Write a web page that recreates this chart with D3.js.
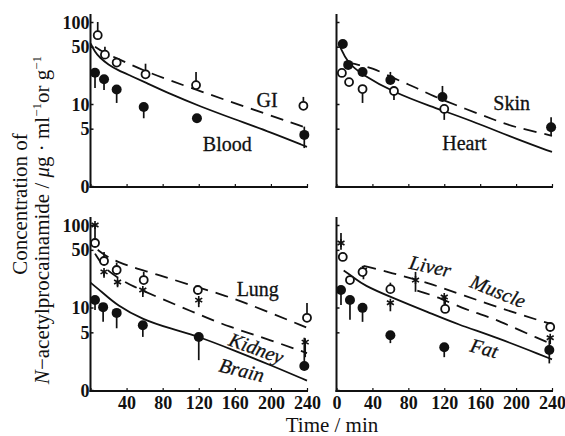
<!DOCTYPE html>
<html><head><meta charset="utf-8">
<script src="https://cdn.jsdelivr.net/npm/d3@7"></script>
<style>
body{margin:0;background:#fff}
text{font-family:"Liberation Serif","DejaVu Serif",serif;fill:#111}
</style>
</head><body>
<svg id="c" width="565" height="436"></svg>
<script>
// ---------- data ----------
const TIME_TICKS = [0, 40, 80, 120, 160, 200, 240];
const TIME_LABELS_LEFT = [40, 80, 120, 160, 200, 240];
const CONC_TICKS = [1, 5, 10, 50, 100];
const CONC_LABELS = ["0", "5", "10", "50", "100"];

// top-left: GI (open, dashed) & Blood (filled, solid)
const giT = [8, 16, 29, 61, 117, 236];
const giV = [69, 40, 32, 23, 17, 9.5];
const giHi = [100, 50, 32, 31, 24.5, 12.2];
const bloodT = [5, 15, 29, 59, 118, 237];
const bloodV = [24, 20, 15, 9.2, 6.7, 4.2];
const bloodLo = [15.7, 14.8, 10.3, 6.7, 6.2, 2.9];
const bloodHi = [24, 20, 15, 9.2, 6.7, 5.3];
const giCurveT = [5, 15, 30, 60, 120, 180, 240];
const giCurveV = [50, 42, 36, 25, 14.5, 8.6, 5.1];
const bloodCurveT = [0, 5, 10, 20, 30, 45, 60, 90, 120, 160, 200, 240];
const bloodCurveV = [55, 43, 37, 30, 26, 22, 18.5, 13, 9.5, 6.5, 4.5, 3.0];

// top-right: Skin (filled, dashed) & Heart (open, solid)
const skinT = [7, 13, 29, 60, 118, 239];
const skinV = [54, 30, 24.6, 19.6, 12.2, 5.2];
const skinLo = [54, 30, 24.6, 19.6, 12.2, 4.2];
const skinHi = [54, 30, 24.6, 24.6, 16.6, 6.9];
const heartT = [6, 14, 29, 64, 120];
const heartV = [23.9, 18.5, 15.2, 14.4, 8.7];
const heartLo = [23.9, 18.5, 10.3, 11.2, 6.4];
const skinCurveT = [12, 25, 40, 56, 76, 90, 105, 145, 176, 196, 240];
const skinCurveV = [32, 30, 27.5, 22.6, 18, 15.6, 12.8, 8.6, 6.4, 5.3, 4.1];
const heartCurveT = [4, 12, 29, 63, 104, 148, 204, 240];
const heartCurveV = [50, 32, 22.6, 14, 9.4, 6.4, 3.6, 2.6];

// bottom-left: Lung (open), Kidney (asterisk), Brain (filled)
const lungT = [5, 15, 29, 59, 119, 240];
const lungV = [60.5, 36.6, 28.5, 21.5, 16.3, 7.5];
const lungHi = [60.5, 47, 35, 27, 18, 11.3];
const kidneyT = [5, 15, 30, 58, 120, 238];
const kidneyV = [100, 27, 20.4, 16.3, 12.3, 3.8];
const kidneyLo = [60, 23, 17.6, 13.4, 10.1, 2.5];
const brainT = [5, 14, 29, 58, 120, 237];
const brainV = [12.3, 10.1, 8.6, 6.1, 4.4, 1.95];
const brainLo = [9.3, 6.7, 5.6, 4.4, 2.3, 1.95];
const brainHi = [12.3, 10.1, 8.6, 6.1, 4.4, 4.3];
const lungCurveT = [8, 20, 30, 45, 75, 105, 150, 190, 240];
const lungCurveV = [50, 40, 36, 31, 25, 19.5, 14, 9.5, 5.7];
const kidneyCurveT = [5, 15, 30, 46, 77, 116, 154, 196, 240];
const kidneyCurveV = [45, 30, 23, 18.2, 13, 8.6, 5.8, 4.15, 2.8];
const brainCurveT = [0, 14, 29, 58, 90, 121, 158, 200, 240];
const brainCurveV = [20, 15, 10.7, 7.1, 5.5, 4.4, 3.05, 2.0, 1.3];

// bottom-right: Liver (asterisk), Muscle (open), Fat (filled)
const liverT = [5, 30, 60, 88, 120, 238];
const liverV = [60.5, 28.5, 11.4, 21.5, 13.4, 4.3];
const liverLo = [50, 22, 9, 15.5, 11, 3.6];
const liverHi = [80, 28.5, 11.4, 27, 13.4, 4.3];
const muscleT = [7, 15, 29, 60, 121, 238];
const muscleV = [41, 21.5, 26.9, 16.7, 9.6, 5.8];
const muscleHi = [41, 21.5, 32, 20, 13.4, 6.6];
const fatT = [5, 15, 29, 60, 120, 237];
const fatV = [16.3, 12.3, 9.9, 4.6, 3.3, 3.05];
const fatLo = [10.7, 7.1, 6.7, 3.7, 2.5, 2.1];
const fatHi = [16.3, 12.3, 9.9, 4.6, 3.3, 4.0];
const liverCurveT = [30, 60, 105, 135, 210, 240];
const liverCurveV = [32, 26.5, 19.5, 14.8, 7.8, 6.3];
const muscleCurveT = [90, 110, 145, 170, 190, 225, 240];
const muscleCurveV = [16, 13.8, 9.3, 7.7, 6.2, 4.2, 3.6];
const fatCurveT = [8, 20, 30, 60, 104, 134, 179, 230, 240];
const fatCurveV = [28, 22.8, 18.7, 13.4, 8.6, 6.3, 4.3, 2.6, 2.35];

// ---------- scales ----------
const xCols = [
  d3.scaleLinear().domain([0, 240]).range([90.5, 307]),
  d3.scaleLinear().domain([0, 240]).range([336.5, 552])
];
const yRows = [
  d3.scaleLog().domain([1, 100]).range([186, 22]),
  d3.scaleLog().domain([1, 100]).range([390, 225])
];

const panels = [
  { col: 0, row: 0, yLabels: true, xLabels: null,
    series: [
      { t: giT, v: giV, hi: giHi, m: "open" },
      { t: bloodT, v: bloodV, lo: bloodLo, hi: bloodHi, m: "filled" }],
    curves: [
      { t: giCurveT, v: giCurveV, dash: true },
      { t: bloodCurveT, v: bloodCurveV, dash: false }],
    labels: [
      { s: "GI", t: 184, v: 9.2, rot: 0, it: false },
      { s: "Blood", t: 124.5, v: 2.67, rot: 0, it: false }] },
  { col: 1, row: 0, yLabels: false, xLabels: null,
    series: [
      { t: skinT, v: skinV, lo: skinLo, hi: skinHi, m: "filled" },
      { t: heartT, v: heartV, lo: heartLo, m: "open" }],
    curves: [
      { t: skinCurveT, v: skinCurveV, dash: true },
      { t: heartCurveT, v: heartCurveV, dash: false }],
    labels: [
      { s: "Skin", t: 174.6, v: 8.45, rot: 0, it: false },
      { s: "Heart", t: 117.7, v: 2.75, rot: 0, it: false }] },
  { col: 0, row: 1, yLabels: true, xLabels: TIME_LABELS_LEFT,
    series: [
      { t: lungT, v: lungV, hi: lungHi, m: "open" },
      { t: kidneyT, v: kidneyV, lo: kidneyLo, m: "star" },
      { t: brainT, v: brainV, lo: brainLo, hi: brainHi, m: "filled" }],
    curves: [
      { t: lungCurveT, v: lungCurveV, dash: true },
      { t: kidneyCurveT, v: kidneyCurveV, dash: true },
      { t: brainCurveT, v: brainCurveV, dash: false }],
    labels: [
      { s: "Lung", t: 162, v: 13.8, rot: 0, it: false },
      { s: "Kidney", t: 184, v: 3.23, rot: 20, it: true, mid: true },
      { s: "Brain", t: 167.6, v: 1.75, rot: 14, it: true, mid: true }] },
  { col: 1, row: 1, yLabels: false, xLabels: TIME_TICKS,
    series: [
      { t: liverT, v: liverV, lo: liverLo, hi: liverHi, m: "star" },
      { t: muscleT, v: muscleV, hi: muscleHi, m: "open" },
      { t: fatT, v: fatV, lo: fatLo, hi: fatHi, m: "filled" }],
    curves: [
      { t: liverCurveT, v: liverCurveV, dash: true },
      { t: muscleCurveT, v: muscleCurveV, dash: true },
      { t: fatCurveT, v: fatCurveV, dash: false }],
    labels: [
      { s: "Liver", t: 104.4, v: 31.8, rot: 12, it: true, mid: true },
      { s: "Muscle", t: 180, v: 15.8, rot: 22, it: true, mid: true },
      { s: "Fat", t: 164.6, v: 3.23, rot: 15, it: true, mid: true }] }
];

const svg = d3.select("#c");
const INK = "#111";

function drawPanel(p) {
  const x = xCols[p.col], y = yRows[p.row];
  const g = svg.append("g");

  // axes lines
  g.append("line").attr("x1", x(0)).attr("x2", x(0))
    .attr("y1", y(100) - 8).attr("y2", y(1) + 2)
    .attr("stroke", INK).attr("stroke-width", 2);
  g.append("line").attr("x1", x(0) - 1).attr("x2", x(240) + 1)
    .attr("y1", y(1) + 1).attr("y2", y(1) + 1)
    .attr("stroke", INK).attr("stroke-width", 2);

  // y axis ticks / labels
  const yAxis = d3.axisLeft(y).tickValues(CONC_TICKS).tickSizeInner(-3).tickSizeOuter(0)
    .tickPadding(1).tickFormat((d, i) => p.yLabels ? CONC_LABELS[i] : "");
  g.append("g").attr("transform", `translate(${x(0)},0)`).call(yAxis)
    .call(a => a.select(".domain").remove())
    .call(a => a.selectAll("line").attr("stroke", INK).attr("stroke-width", 1.5))
    .call(a => a.selectAll("text").attr("font-size", 18).attr("font-weight", "bold").attr("fill", INK).attr("dy", "0.34em"))
    .attr("font-family", null).attr("font-size", null);

  // x axis ticks / labels
  const xAxis = d3.axisBottom(x).tickValues(TIME_TICKS).tickSizeInner(-3).tickSizeOuter(0)
    .tickPadding(5).tickFormat(d => (p.xLabels && p.xLabels.includes(d)) ? d : "");
  g.append("g").attr("transform", `translate(0,${y(1) + 1})`).call(xAxis)
    .call(a => a.select(".domain").remove())
    .call(a => a.selectAll("line").attr("stroke", INK).attr("stroke-width", 1.2))
    .call(a => a.selectAll("text").attr("font-size", 18).attr("font-weight", "bold").attr("fill", INK))
    .attr("font-family", null).attr("font-size", null);

  // curves
  const line = d3.line().x(d => x(d[0])).y(d => y(d[1])).curve(d3.curveBasis);
  p.curves.forEach(c => {
    g.append("path").attr("d", line(d3.zip(c.t, c.v)))
      .attr("fill", "none").attr("stroke", INK).attr("stroke-width", 1.8)
      .attr("stroke-dasharray", c.dash ? "13,8" : null);
  });

  // error bars
  p.series.forEach(s => {
    s.t.forEach((t, i) => {
      const lo = s.lo ? s.lo[i] : s.v[i], hi = s.hi ? s.hi[i] : s.v[i];
      if (lo !== hi) {
        g.append("line").attr("x1", x(t)).attr("x2", x(t))
          .attr("y1", y(lo)).attr("y2", y(hi))
          .attr("stroke", INK).attr("stroke-width", 1.7);
      }
    });
  });

  // markers
  p.series.forEach(s => {
    const pts = d3.zip(s.t, s.v);
    if (s.m === "filled") {
      g.selectAll(null).data(pts).join("circle")
        .attr("cx", d => x(d[0])).attr("cy", d => y(d[1])).attr("r", 5).attr("fill", INK);
    } else if (s.m === "open") {
      g.selectAll(null).data(pts).join("circle")
        .attr("cx", d => x(d[0])).attr("cy", d => y(d[1])).attr("r", 4)
        .attr("fill", "#fff").attr("stroke", INK).attr("stroke-width", 1.8);
    } else {
      const sym = d3.symbol(d3.symbolAsterisk, 45);
      g.selectAll(null).data(pts).join("path")
        .attr("transform", d => `translate(${x(d[0])},${y(d[1])})`)
        .attr("d", sym).attr("fill", "none").attr("stroke", INK).attr("stroke-width", 1.6);
    }
  });

  // labels
  p.labels.forEach(l => {
    const tx = x(l.t), ty = y(l.v);
    g.append("text").text(l.s)
      .attr("transform", `translate(${tx},${ty}) rotate(${l.rot})`)
      .attr("text-anchor", l.mid ? "middle" : "start")
      .attr("dy", l.mid ? "0.35em" : 0)
      .attr("font-size", 20)
      .attr("stroke", INK).attr("stroke-width", 0.3)
      .attr("font-style", l.it ? "italic" : "normal");
  });
}

panels.forEach(drawPanel);

// axis titles
svg.append("text").attr("transform", "translate(27,204) rotate(-90)")
  .attr("text-anchor", "middle").attr("font-size", 21).text("Concentration of");
const t2 = svg.append("text").attr("transform", "translate(49,220) rotate(-90)")
  .attr("text-anchor", "middle").attr("font-size", 21);
t2.append("tspan").attr("font-style", "italic").text("N");
t2.append("tspan").text("\u2212acetylprocainamide / ");
t2.append("tspan").attr("font-style", "italic").text("\u03bc");
t2.append("tspan").text("g \u00b7 ml");
t2.append("tspan").attr("font-size", 13).attr("dy", -8).text("\u22121");
t2.append("tspan").attr("dy", 8).text("or g");
t2.append("tspan").attr("font-size", 13).attr("dy", -8).text("\u22121");

svg.append("text").attr("x", 332).attr("y", 432).attr("text-anchor", "middle")
  .attr("font-size", 21).text("Time / min");
</script>
</body></html>
